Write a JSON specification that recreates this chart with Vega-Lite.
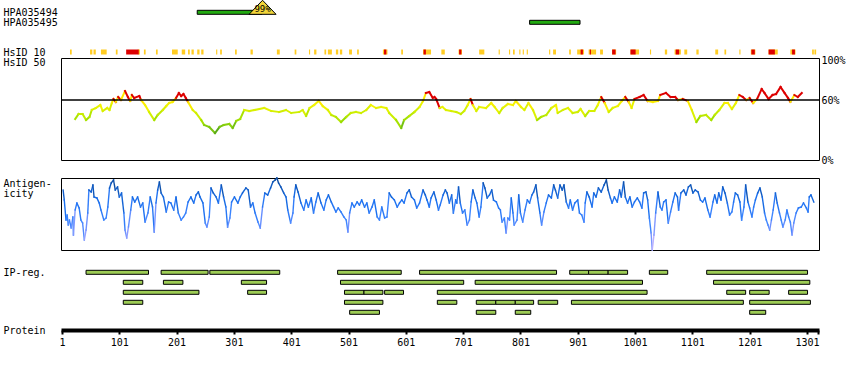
{
"$schema": "https://vega.github.io/schema/vega-lite/v6.json",
"padding": {"left": 2, "top": -2, "right": 0, "bottom": 0},
"config": {
 "font": "DejaVu Sans Mono",
 "view": {"stroke": null},
 "axis": {"grid": false, "labelFont": "DejaVu Sans Mono", "labelFontSize": 10, "labelColor": "#000", "title": null, "labelFlush": false, "labelOverlap": false, "titleFont": "DejaVu Sans Mono", "titleFontSize": 10, "titleFontWeight": "normal", "titleColor": "#000"},
 "axisLeft": {"domain": false, "ticks": false, "tickSize": 0, "labelAlign": "left", "labelPadding": 58, "labelBaseline": "middle"},
 "axisRight": {"domain": false, "ticks": false, "tickSize": 0, "labelAlign": "left", "labelPadding": 2, "labelBaseline": "middle"}
},
"datasets": {
 "ab": [{"s":237,"e":350,"r":1},{"s":817,"e":905,"r":2}],
 "tri": [{"p":351,"r":1,"t":"99%"}],
 "hsid10": [
  {"s":15,"e":18,"c":"Y"},{"s":50,"e":54,"c":"Y"},{"s":56,"e":60,"c":"Y"},{"s":69,"e":79,"c":"Y"},{"s":95,"e":98,"c":"Y"},{"s":133,"e":137,"c":"Y"},{"s":144,"e":147,"c":"Y"},{"s":165,"e":168,"c":"Y"},{"s":193,"e":203,"c":"Y"},{"s":210,"e":216,"c":"Y"},{"s":221,"e":224,"c":"Y"},{"s":227,"e":231,"c":"Y"},{"s":237,"e":241,"c":"Y"},{"s":244,"e":248,"c":"Y"},{"s":270,"e":272,"c":"Y"},{"s":277,"e":280,"c":"Y"},{"s":303,"e":306,"c":"Y"},{"s":330,"e":334,"c":"Y"},{"s":376,"e":381,"c":"Y"},{"s":407,"e":410,"c":"Y"},{"s":432,"e":434,"c":"Y"},{"s":441,"e":445,"c":"Y"},{"s":459,"e":462,"c":"Y"},{"s":465,"e":472,"c":"Y"},{"s":479,"e":483,"c":"Y"},{"s":486,"e":490,"c":"Y"},{"s":502,"e":507,"c":"Y"},{"s":516,"e":519,"c":"Y"},{"s":561,"e":569,"c":"Y"},{"s":593,"e":596,"c":"Y"},{"s":631,"e":645,"c":"Y"},{"s":663,"e":669,"c":"Y"},{"s":693,"e":699,"c":"Y"},{"s":729,"e":738,"c":"Y"},{"s":763,"e":765,"c":"Y"},{"s":781,"e":783,"c":"Y"},{"s":788,"e":791,"c":"Y"},{"s":799,"e":801,"c":"Y"},{"s":805,"e":807,"c":"Y"},{"s":812,"e":814,"c":"Y"},{"s":851,"e":853,"c":"Y"},{"s":858,"e":863,"c":"Y"},{"s":886,"e":889,"c":"Y"},{"s":900,"e":912,"c":"Y"},{"s":920,"e":933,"c":"Y"},{"s":940,"e":945,"c":"Y"},{"s":961,"e":968,"c":"Y"},{"s":993,"e":1008,"c":"Y"},{"s":1027,"e":1029,"c":"Y"},{"s":1053,"e":1057,"c":"Y"},{"s":1070,"e":1081,"c":"Y"},{"s":1087,"e":1092,"c":"Y"},{"s":1108,"e":1112,"c":"Y"},{"s":1141,"e":1146,"c":"Y"},{"s":1157,"e":1160,"c":"Y"},{"s":1183,"e":1185,"c":"Y"},{"s":1203,"e":1211,"c":"Y"},{"s":1234,"e":1250,"c":"Y"},{"s":1272,"e":1281,"c":"Y"},{"s":1310,"e":1313,"c":"Y"},{"s":1314,"e":1317,"c":"Y"},
  {"s":113,"e":135,"c":"R"},{"s":563,"e":567,"c":"R"},{"s":632,"e":636,"c":"R"},{"s":694,"e":698,"c":"R"},{"s":906,"e":910,"c":"R"},{"s":922,"e":924,"c":"R"},{"s":961,"e":967,"c":"R"},{"s":993,"e":1002,"c":"R"},{"s":1072,"e":1078,"c":"R"},{"s":1204,"e":1210,"c":"R"},{"s":1234,"e":1245,"c":"R"},{"s":1275,"e":1280,"c":"R"}
 ],
 "hsid": [
  {"p":24,"v":41},{"p":30,"v":46},{"p":37,"v":46},{"p":43,"v":40},{"p":49,"v":43},{"p":53,"v":50},{"p":60,"v":52},{"p":68,"v":55},{"p":72,"v":49},{"p":80,"v":52},{"p":84,"v":50},{"p":88,"v":57},{"p":91,"v":61},{"p":95,"v":58},{"p":99,"v":63},{"p":104,"v":60},{"p":111,"v":69},{"p":116,"v":63},{"p":120,"v":59},{"p":123,"v":65},{"p":127,"v":62},{"p":136,"v":64},{"p":139,"v":60},{"p":146,"v":55},{"p":153,"v":48},{"p":162,"v":40},{"p":168,"v":45},{"p":177,"v":50},{"p":183,"v":54},{"p":188,"v":57},{"p":194,"v":58},{"p":200,"v":62},{"p":205,"v":67},{"p":209,"v":64},{"p":213,"v":66},{"p":217,"v":62},{"p":221,"v":58},{"p":229,"v":50},{"p":235,"v":47},{"p":244,"v":40},{"p":249,"v":35},{"p":258,"v":33},{"p":268,"v":27},{"p":276,"v":33},{"p":283,"v":35},{"p":293,"v":36},{"p":299,"v":32},{"p":305,"v":39},{"p":312,"v":41},{"p":319,"v":50},{"p":328,"v":49},{"p":337,"v":50},{"p":354,"v":52},{"p":366,"v":49},{"p":380,"v":48},{"p":392,"v":50},{"p":401,"v":47},{"p":415,"v":48},{"p":421,"v":50},{"p":427,"v":44},{"p":433,"v":52},{"p":441,"v":55},{"p":449,"v":59},{"p":456,"v":54},{"p":465,"v":50},{"p":471,"v":45},{"p":479,"v":43},{"p":488,"v":38},{"p":497,"v":43},{"p":505,"v":47},{"p":514,"v":48},{"p":523,"v":47},{"p":532,"v":50},{"p":540,"v":55},{"p":549,"v":52},{"p":558,"v":53},{"p":567,"v":52},{"p":572,"v":47},{"p":584,"v":40},{"p":593,"v":32},{"p":598,"v":40},{"p":607,"v":44},{"p":616,"v":48},{"p":625,"v":53},{"p":631,"v":59},{"p":636,"v":67},{"p":642,"v":68},{"p":648,"v":62},{"p":651,"v":63},{"p":654,"v":61},{"p":660,"v":52},{"p":665,"v":53},{"p":671,"v":50},{"p":680,"v":49},{"p":689,"v":48},{"p":697,"v":46},{"p":703,"v":49},{"p":709,"v":55},{"p":714,"v":61},{"p":718,"v":55},{"p":724,"v":49},{"p":729,"v":53},{"p":741,"v":52},{"p":750,"v":57},{"p":756,"v":53},{"p":764,"v":47},{"p":770,"v":52},{"p":779,"v":56},{"p":788,"v":55},{"p":793,"v":59},{"p":802,"v":53},{"p":808,"v":50},{"p":815,"v":57},{"p":823,"v":50},{"p":830,"v":40},{"p":837,"v":43},{"p":846,"v":45},{"p":855,"v":52},{"p":863,"v":55},{"p":866,"v":47},{"p":875,"v":50},{"p":884,"v":52},{"p":892,"v":47},{"p":901,"v":48},{"p":906,"v":51},{"p":914,"v":44},{"p":921,"v":49},{"p":930,"v":49},{"p":936,"v":55},{"p":942,"v":63},{"p":948,"v":57},{"p":955,"v":48},{"p":962,"v":52},{"p":971,"v":54},{"p":978,"v":59},{"p":984,"v":63},{"p":990,"v":58},{"p":995,"v":52},{"p":1000,"v":61},{"p":1009,"v":63},{"p":1016,"v":65},{"p":1023,"v":59},{"p":1032,"v":58},{"p":1041,"v":59},{"p":1045,"v":65},{"p":1055,"v":67},{"p":1063,"v":63},{"p":1071,"v":63},{"p":1076,"v":60},{"p":1084,"v":61},{"p":1093,"v":59},{"p":1100,"v":50},{"p":1108,"v":38},{"p":1115,"v":44},{"p":1125,"v":45},{"p":1134,"v":40},{"p":1140,"v":45},{"p":1148,"v":50},{"p":1157,"v":57},{"p":1163,"v":57},{"p":1170,"v":51},{"p":1177,"v":57},{"p":1183,"v":65},{"p":1189,"v":63},{"p":1195,"v":60},{"p":1201,"v":62},{"p":1207,"v":57},{"p":1214,"v":61},{"p":1222,"v":71},{"p":1227,"v":67},{"p":1234,"v":61},{"p":1241,"v":65},{"p":1247,"v":66},{"p":1255,"v":73},{"p":1262,"v":67},{"p":1268,"v":62},{"p":1272,"v":58},{"p":1279,"v":65},{"p":1285,"v":63},{"p":1292,"v":67}
 ],
 "antig": [
  {"p":3,"v":60},{"p":5,"v":50},{"p":8,"v":30},{"p":10,"v":35},{"p":12,"v":25},{"p":14,"v":30},{"p":17,"v":22},{"p":20,"v":33},{"p":21,"v":15},{"p":24,"v":40},{"p":27,"v":47},{"p":31,"v":42},{"p":34,"v":30},{"p":37,"v":27},{"p":40,"v":10},{"p":43,"v":20},{"p":46,"v":37},{"p":48,"v":60},{"p":52,"v":58},{"p":55,"v":65},{"p":57,"v":53},{"p":62,"v":52},{"p":66,"v":47},{"p":69,"v":40},{"p":74,"v":30},{"p":78,"v":32},{"p":81,"v":43},{"p":84,"v":62},{"p":87,"v":67},{"p":91,"v":70},{"p":94,"v":60},{"p":98,"v":63},{"p":101,"v":53},{"p":105,"v":57},{"p":109,"v":37},{"p":111,"v":20},{"p":114,"v":12},{"p":117,"v":23},{"p":121,"v":40},{"p":124,"v":53},{"p":128,"v":48},{"p":133,"v":53},{"p":138,"v":43},{"p":142,"v":47},{"p":146,"v":28},{"p":151,"v":37},{"p":155,"v":53},{"p":159,"v":43},{"p":162,"v":18},{"p":165,"v":47},{"p":168,"v":60},{"p":171,"v":68},{"p":174,"v":57},{"p":178,"v":53},{"p":183,"v":38},{"p":187,"v":48},{"p":191,"v":47},{"p":196,"v":40},{"p":200,"v":53},{"p":204,"v":37},{"p":209,"v":30},{"p":213,"v":33},{"p":217,"v":37},{"p":221,"v":48},{"p":226,"v":53},{"p":231,"v":47},{"p":235,"v":55},{"p":239,"v":58},{"p":242,"v":53},{"p":247,"v":47},{"p":251,"v":27},{"p":254,"v":23},{"p":258,"v":33},{"p":261,"v":62},{"p":265,"v":57},{"p":270,"v":53},{"p":274,"v":47},{"p":279,"v":65},{"p":283,"v":53},{"p":287,"v":43},{"p":290,"v":23},{"p":294,"v":32},{"p":297,"v":48},{"p":302,"v":53},{"p":308,"v":47},{"p":312,"v":53},{"p":316,"v":57},{"p":322,"v":62},{"p":326,"v":60},{"p":330,"v":43},{"p":334,"v":47},{"p":338,"v":37},{"p":343,"v":28},{"p":347,"v":22},{"p":351,"v":43},{"p":355,"v":57},{"p":360,"v":55},{"p":365,"v":62},{"p":369,"v":68},{"p":373,"v":70},{"p":376,"v":72},{"p":379,"v":67},{"p":383,"v":63},{"p":388,"v":57},{"p":392,"v":53},{"p":395,"v":40},{"p":400,"v":27},{"p":404,"v":37},{"p":406,"v":53},{"p":409,"v":65},{"p":413,"v":58},{"p":418,"v":47},{"p":423,"v":40},{"p":427,"v":50},{"p":431,"v":43},{"p":436,"v":52},{"p":440,"v":37},{"p":444,"v":48},{"p":448,"v":57},{"p":453,"v":47},{"p":458,"v":40},{"p":462,"v":50},{"p":466,"v":55},{"p":471,"v":48},{"p":475,"v":43},{"p":479,"v":38},{"p":483,"v":42},{"p":488,"v":38},{"p":493,"v":33},{"p":497,"v":30},{"p":500,"v":18},{"p":503,"v":37},{"p":507,"v":47},{"p":511,"v":43},{"p":516,"v":48},{"p":520,"v":45},{"p":524,"v":50},{"p":529,"v":43},{"p":533,"v":47},{"p":537,"v":37},{"p":542,"v":43},{"p":546,"v":50},{"p":551,"v":33},{"p":555,"v":30},{"p":559,"v":43},{"p":564,"v":32},{"p":568,"v":33},{"p":572,"v":57},{"p":576,"v":53},{"p":581,"v":50},{"p":586,"v":43},{"p":590,"v":47},{"p":594,"v":50},{"p":598,"v":47},{"p":603,"v":57},{"p":607,"v":60},{"p":611,"v":53},{"p":616,"v":50},{"p":620,"v":42},{"p":625,"v":47},{"p":631,"v":60},{"p":635,"v":55},{"p":638,"v":50},{"p":642,"v":43},{"p":645,"v":52},{"p":650,"v":58},{"p":654,"v":50},{"p":658,"v":40},{"p":661,"v":45},{"p":666,"v":55},{"p":670,"v":60},{"p":673,"v":57},{"p":677,"v":47},{"p":681,"v":55},{"p":684,"v":37},{"p":688,"v":50},{"p":690,"v":47},{"p":693,"v":63},{"p":696,"v":47},{"p":700,"v":37},{"p":704,"v":40},{"p":708,"v":25},{"p":712,"v":30},{"p":715,"v":48},{"p":718,"v":60},{"p":722,"v":52},{"p":725,"v":47},{"p":729,"v":33},{"p":732,"v":43},{"p":736,"v":67},{"p":739,"v":62},{"p":743,"v":52},{"p":747,"v":55},{"p":751,"v":60},{"p":754,"v":50},{"p":759,"v":48},{"p":763,"v":42},{"p":766,"v":40},{"p":769,"v":28},{"p":773,"v":32},{"p":776,"v":17},{"p":779,"v":32},{"p":782,"v":30},{"p":785,"v":52},{"p":788,"v":37},{"p":790,"v":25},{"p":795,"v":30},{"p":798,"v":55},{"p":801,"v":37},{"p":805,"v":28},{"p":809,"v":40},{"p":813,"v":50},{"p":817,"v":47},{"p":821,"v":55},{"p":824,"v":58},{"p":828,"v":65},{"p":831,"v":52},{"p":835,"v":37},{"p":838,"v":25},{"p":842,"v":38},{"p":846,"v":47},{"p":850,"v":55},{"p":855,"v":52},{"p":859,"v":65},{"p":862,"v":60},{"p":866,"v":52},{"p":870,"v":65},{"p":874,"v":60},{"p":877,"v":65},{"p":881,"v":48},{"p":885,"v":42},{"p":888,"v":50},{"p":892,"v":40},{"p":896,"v":47},{"p":901,"v":50},{"p":904,"v":37},{"p":908,"v":35},{"p":912,"v":28},{"p":914,"v":47},{"p":917,"v":58},{"p":921,"v":53},{"p":926,"v":43},{"p":929,"v":57},{"p":933,"v":53},{"p":937,"v":62},{"p":942,"v":58},{"p":947,"v":65},{"p":951,"v":70},{"p":954,"v":60},{"p":958,"v":52},{"p":961,"v":47},{"p":965,"v":53},{"p":970,"v":48},{"p":974,"v":60},{"p":977,"v":53},{"p":981,"v":68},{"p":984,"v":53},{"p":988,"v":47},{"p":992,"v":53},{"p":996,"v":43},{"p":1000,"v":48},{"p":1005,"v":52},{"p":1009,"v":48},{"p":1013,"v":42},{"p":1016,"v":57},{"p":1020,"v":58},{"p":1023,"v":50},{"p":1026,"v":32},{"p":1029,"v":17},{"p":1031,"v":0},{"p":1034,"v":15},{"p":1037,"v":37},{"p":1041,"v":58},{"p":1045,"v":43},{"p":1048,"v":40},{"p":1051,"v":48},{"p":1055,"v":50},{"p":1059,"v":27},{"p":1063,"v":38},{"p":1067,"v":48},{"p":1071,"v":57},{"p":1075,"v":53},{"p":1077,"v":40},{"p":1081,"v":57},{"p":1086,"v":60},{"p":1090,"v":55},{"p":1094,"v":63},{"p":1098,"v":65},{"p":1102,"v":57},{"p":1106,"v":60},{"p":1111,"v":58},{"p":1115,"v":50},{"p":1119,"v":48},{"p":1123,"v":52},{"p":1128,"v":40},{"p":1132,"v":33},{"p":1137,"v":48},{"p":1140,"v":55},{"p":1144,"v":47},{"p":1147,"v":57},{"p":1151,"v":50},{"p":1154,"v":63},{"p":1158,"v":57},{"p":1162,"v":47},{"p":1166,"v":35},{"p":1170,"v":38},{"p":1173,"v":48},{"p":1176,"v":57},{"p":1180,"v":55},{"p":1184,"v":48},{"p":1187,"v":30},{"p":1191,"v":43},{"p":1194,"v":65},{"p":1198,"v":48},{"p":1201,"v":42},{"p":1205,"v":33},{"p":1208,"v":43},{"p":1211,"v":50},{"p":1215,"v":57},{"p":1219,"v":62},{"p":1223,"v":53},{"p":1227,"v":37},{"p":1230,"v":30},{"p":1233,"v":25},{"p":1236,"v":20},{"p":1239,"v":30},{"p":1242,"v":40},{"p":1246,"v":57},{"p":1249,"v":47},{"p":1253,"v":37},{"p":1256,"v":30},{"p":1259,"v":23},{"p":1263,"v":30},{"p":1266,"v":40},{"p":1269,"v":33},{"p":1272,"v":28},{"p":1275,"v":15},{"p":1278,"v":27},{"p":1282,"v":37},{"p":1286,"v":42},{"p":1291,"v":43},{"p":1295,"v":47},{"p":1300,"v":42},{"p":1303,"v":38},{"p":1305,"v":53},{"p":1308,"v":55},{"p":1313,"v":48}
 ],
 "ipreg": [
  {"s":43,"e":152,"r":1},{"s":174,"e":256,"r":1},{"s":259,"e":381,"r":1},{"s":482,"e":593,"r":1},{"s":625,"e":864,"r":1},{"s":887,"e":920,"r":1},{"s":920,"e":954,"r":1},{"s":954,"e":988,"r":1},{"s":1026,"e":1058,"r":1},{"s":1126,"e":1302,"r":1},
  {"s":108,"e":142,"r":2},{"s":178,"e":212,"r":2},{"s":314,"e":358,"r":2},{"s":487,"e":702,"r":2},{"s":722,"e":1014,"r":2},{"s":1138,"e":1306,"r":2},
  {"s":108,"e":240,"r":3},{"s":325,"e":358,"r":3},{"s":494,"e":528,"r":3},{"s":528,"e":561,"r":3},{"s":564,"e":597,"r":3},{"s":656,"e":1022,"r":3},{"s":1161,"e":1194,"r":3},{"s":1201,"e":1235,"r":3},{"s":1269,"e":1302,"r":3},
  {"s":108,"e":142,"r":4},{"s":494,"e":561,"r":4},{"s":656,"e":690,"r":4},{"s":724,"e":758,"r":4},{"s":758,"e":792,"r":4},{"s":792,"e":824,"r":4},{"s":832,"e":866,"r":4},{"s":890,"e":1190,"r":4},{"s":1201,"e":1307,"r":4},
  {"s":503,"e":555,"r":5},{"s":724,"e":758,"r":5},{"s":792,"e":819,"r":5},{"s":1201,"e":1229,"r":5}
 ]
},
"spacing": 18,
"bounds": "flush",
"resolve": {"scale": {"y": "independent", "color": "independent"}},
"vconcat": [
 {
  "width": 758, "height": 40,
  "layer": [
   {
    "data": {"name": "ab"},
    "mark": {"type": "bar", "orient": "horizontal", "height": 4, "fill": "#22aa11", "stroke": "#000", "strokeWidth": 1},
    "encoding": {
     "x": {"field": "s", "type": "quantitative", "scale": {"domain": [-0.7, 1322], "nice": false, "zero": false}, "axis": null, "title": null},
     "x2": {"field": "e"},
     "y": {"field": "r", "type": "quantitative", "scale": {"domain": [-0.23, 3.77], "reverse": true, "nice": false, "zero": false, "padding": 0}, "title": null,
           "axis": {"orient": "left", "values": [1, 2], "labelExpr": "datum.value == 1 ? 'HPA035494' : 'HPA035495'"}}
    }
   },
   {
    "data": {"name": "tri"},
    "mark": {"type": "point", "shape": "M0,-0.52L1,0.52L-1,0.52Z", "size": 729, "filled": true, "fill": "#f2d53a", "stroke": "#000", "strokeWidth": 1, "opacity": 1, "yOffset": -5},
    "encoding": {
     "x": {"field": "p", "type": "quantitative", "axis": null, "title": null},
     "y": {"field": "r", "type": "quantitative", "title": null}
    }
   },
   {
    "data": {"name": "tri"},
    "mark": {"type": "text", "fontSize": 9, "dy": -3, "color": "#000", "font": "DejaVu Sans Mono"},
    "encoding": {
     "x": {"field": "p", "type": "quantitative", "axis": null, "title": null},
     "y": {"field": "r", "type": "quantitative", "title": null},
     "text": {"field": "t"}
    }
   }
  ]
 },
 {
  "width": 758, "height": 102,
  "view": {"stroke": "#000", "strokeWidth": 1},
  "resolve": {"axis": {"y": "independent"}},
  "layer": [
   {
    "data": {"name": "hsid10"},
    "mark": {"type": "bar", "orient": "horizontal", "height": 5},
    "encoding": {
     "x": {"field": "s", "type": "quantitative", "scale": {"domain": [-0.7, 1322], "nice": false, "zero": false}, "axis": null, "title": null},
     "x2": {"field": "e"},
     "y": {"datum": 108, "type": "quantitative", "scale": {"domain": [0, 102], "nice": false, "zero": false, "padding": 0},
           "axis": {"orient": "left", "values": [98], "labelExpr": "'HsID 50'", "title": "HsID 10", "titleAngle": 0, "titleAlign": "left", "titleBaseline": "middle", "titleX": -58, "titleY": -6}},
     "color": {"field": "c", "type": "nominal", "scale": {"domain": ["Y", "R"], "range": ["#ffcc22", "#dd0000"]}, "legend": null}
    }
   },
   {
    "data": {"name": "hsid"},
    "transform": [
     {"window": [{"op": "lead", "field": "p", "as": "p2"}, {"op": "lead", "field": "v", "as": "v2"}], "sort": [{"field": "p", "order": "ascending"}]},
     {"filter": "datum.p2 != null"}
    ],
    "mark": {"type": "rule", "strokeWidth": 2, "strokeCap": "square"},
    "encoding": {
     "x": {"field": "p", "type": "quantitative", "axis": null, "title": null},
     "x2": {"field": "p2"},
     "y": {"field": "v", "type": "quantitative", "axis": null, "title": null},
     "y2": {"field": "v2"},
     "color": {"field": "v", "type": "quantitative", "legend": null,
               "scale": {"domain": [27, 38, 47, 55, 60, 60.5], "range": ["#5aaa18", "#99dd00", "#ccee00", "#f4f400", "#ffe800", "#dd0000"], "clamp": true}}
    }
   },
   {
    "data": {"values": [{}]},
    "mark": {"type": "rule", "strokeWidth": 1.5, "color": "#000"},
    "encoding": {
     "y": {"datum": 60, "type": "quantitative", "title": null,
           "axis": {"orient": "right", "values": [0, 60, 100], "labelExpr": "datum.value + '%'"}}
    }
   }
  ]
 },
 {
  "width": 758, "height": 72,
  "view": {"stroke": "#000", "strokeWidth": 1},
  "data": {"name": "antig"},
  "transform": [
   {"window": [{"op": "lead", "field": "p", "as": "p2"}, {"op": "lead", "field": "v", "as": "v2"}], "sort": [{"field": "p", "order": "ascending"}]},
   {"filter": "datum.p2 != null"}
  ],
  "mark": {"type": "rule", "strokeWidth": 1.4, "strokeCap": "square"},
  "encoding": {
   "x": {"field": "p", "type": "quantitative", "scale": {"domain": [-0.7, 1322], "nice": false, "zero": false}, "axis": null, "title": null},
   "x2": {"field": "p2"},
   "y": {"field": "v", "type": "quantitative", "scale": {"domain": [0, 72], "nice": false, "zero": false}, "title": null,
         "axis": {"orient": "left", "values": [67, 57], "labelExpr": "datum.value == 67 ? 'Antigen-' : '\u00a0icity'"}},
   "y2": {"field": "v2"},
   "color": {"field": "v", "type": "quantitative", "legend": null,
             "scale": {"domain": [0, 15, 30, 50, 72], "range": ["#b8b0ff", "#8098ff", "#3d86ff", "#1a70f0", "#0c4a9e"], "clamp": true}}
  }
 },
 {
  "width": 758, "height": 62,
  "data": {"name": "ipreg"},
  "mark": {"type": "bar", "orient": "horizontal", "height": 4, "fill": "#9dcc55", "stroke": "#000", "strokeWidth": 1},
  "encoding": {
   "x": {"field": "s", "type": "quantitative", "scale": {"domain": [-0.7, 1322], "nice": false, "zero": false}, "title": null,
         "axis": {"orient": "bottom", "values": [1, 101, 201, 301, 401, 501, 601, 701, 801, 901, 1001, 1101, 1201, 1301, 1320], "format": "d",
                  "labelExpr": "datum.value == 1320 ? '' : datum.label", "domain": true, "domainWidth": 4, "domainColor": "#000",
                  "ticks": true, "tickColor": "#000", "tickWidth": 2, "tickSize": 4, "labelPadding": 3, "labelBaseline": "top"}},
   "x2": {"field": "e"},
   "y": {"field": "r", "type": "quantitative", "scale": {"domain": [0.57, 6.77], "reverse": true, "nice": false, "zero": false, "padding": 0}, "title": null,
         "axis": {"orient": "left", "values": [1, 6.77], "labelExpr": "datum.value == 1 ? 'IP-reg.' : 'Protein'"}}
  }
 }
]
}
